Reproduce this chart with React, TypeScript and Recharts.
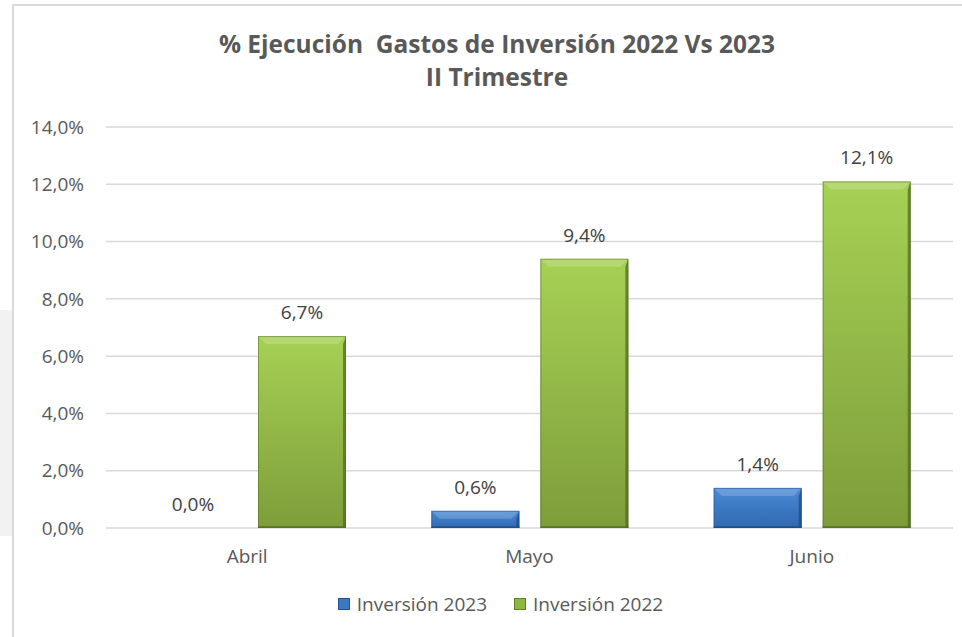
import React from "react";
import {
  BarChart,
  Bar,
  XAxis,
  YAxis,
  CartesianGrid,
  Legend,
  LabelList,
} from "recharts";

const months = ["Abril", "Mayo", "Junio"];
const inversion2023 = [0.0, 0.6, 1.4];
const inversion2022 = [6.7, 9.4, 12.1];
const yTicks = [0, 2, 4, 6, 8, 10, 12, 14];
const seriesOrder = ["Inversión 2023", "Inversión 2022"];

const data = months.map((m, i) => ({
  month: m,
  v2023: inversion2023[i],
  v2022: inversion2022[i],
}));

const FONT = "'Open Sans', 'Liberation Sans', sans-serif";
const fmt = (v: number) => v.toFixed(1).replace(".", ",") + "%";

// bar with a bit of an Excel-style bevel
function BevelBar(props: any) {
  const { x, y, width, height, light, mid, dark, id } = props;
  if (!height || height <= 0) return null;
  const b = Math.min(8, height / 2);
  return (
    <g>
      <defs>
        <linearGradient id={`g-${id}`} x1="0" y1="0" x2="0" y2="1">
          <stop offset="0%" stopColor={light} />
          <stop offset="100%" stopColor={mid} />
        </linearGradient>
      </defs>
      <rect x={x} y={y} width={width} height={height} fill={`url(#g-${id})`} />
      <polygon
        points={`${x},${y} ${x + width},${y} ${x + width - b},${y + b} ${x + b},${y + b}`}
        fill="#ffffff"
        fillOpacity={0.18}
      />
      <polygon
        points={`${x + width},${y} ${x + width},${y + height} ${x + width - 3},${y + height - 2} ${x + width - 3},${y + b}`}
        fill={dark}
        fillOpacity={0.7}
      />
      <rect x={x} y={y + height - 2} width={width} height={2} fill={dark} fillOpacity={0.6} />
      <rect
        x={x + 0.5}
        y={y + 0.5}
        width={width - 1}
        height={height - 1}
        fill="none"
        stroke={dark}
        strokeOpacity={0.5}
      />
    </g>
  );
}

function LegendContent(props: any) {
  const items = [...(props.payload || [])].sort(
    (a: any, b: any) => seriesOrder.indexOf(a.value) - seriesOrder.indexOf(b.value)
  );
  return (
    <div style={{ display: "flex", justifyContent: "center", gap: 27, paddingLeft: 22, fontFamily: FONT, fontSize: 19, color: "#595959" }}>
      {items.map((p: any) => (
        <span key={p.value} style={{ display: "inline-flex", alignItems: "center" }}>
          <span
            style={{
              width: 10,
              height: 10,
              marginRight: 7,
              background: p.color,
              border: "1px solid rgba(0,0,0,0.3)",
              display: "inline-block",
            }}
          />
          {p.value}
        </span>
      ))}
    </div>
  );
}

export default function App() {
  return (
    <div style={{ position: "absolute", left: 0, top: 0, width: 962, height: 637, background: "#fff", overflow: "hidden" }}>
      <div style={{ position: "absolute", left: 0, top: 310, width: 12, height: 226, background: "#f2f2f2" }} />
      <div
        style={{
          position: "absolute",
          left: 12,
          top: 4,
          width: 960,
          height: 660,
          borderLeft: "2px solid #d9d9d9",
          borderTop: "2px solid #d9d9d9",
        }}
      />
      <div
        style={{
          position: "absolute",
          left: 0,
          top: 27,
          width: 994,
          textAlign: "center",
          fontFamily: FONT,
          fontWeight: 700,
          fontSize: 24.5,
          lineHeight: "33px",
          color: "#595959",
        }}
      >
        % Ejecución&nbsp; Gastos de Inversión 2022 Vs 2023
        <br />
        II Trimestre
      </div>
      <BarChart
        width={962}
        height={637}
        data={data}
        margin={{ top: 127, right: 9, left: 26, bottom: 16 }}
        barGap={21}
        barSize={88}
        style={{ position: "absolute", left: 0, top: 0 }}
      >
        <CartesianGrid vertical={false} stroke="#d9d9d9" strokeWidth={1.5} />
        <XAxis
          dataKey="month"
          axisLine={false}
          tickLine={false}
          height={63}
          tickMargin={16}
          tick={{ fill: "#595959", fontSize: 19, fontFamily: FONT }}
        />
        <YAxis
          domain={[0, 14]}
          ticks={yTicks}
          tickFormatter={fmt}
          axisLine={false}
          tickLine={false}
          width={80}
          tickMargin={16}
          tick={{ fill: "#595959", fontSize: 19, fontFamily: FONT }}
        />
        <Legend verticalAlign="bottom" height={30} content={<LegendContent />} />
        <Bar
          dataKey="v2023"
          name="Inversión 2023"
          fill="#3a78c3"
          isAnimationActive={false}
          shape={(p: any) => (
            <BevelBar {...p} id={`b${p.index}`} light="#4a8ad6" mid="#2f69b0" dark="#1f4a80" />
          )}
        >
          <LabelList dataKey="v2023" position="top" offset={17} formatter={(v: any) => fmt(Number(v))} fill="#404040" fontSize={19} fontFamily={FONT} />
        </Bar>
        <Bar
          dataKey="v2022"
          name="Inversión 2022"
          fill="#8db83e"
          isAnimationActive={false}
          shape={(p: any) => (
            <BevelBar {...p} id={`g${p.index}`} light="#a6d154" mid="#7e9d3a" dark="#4f6624" />
          )}
        >
          <LabelList dataKey="v2022" position="top" offset={17} formatter={(v: any) => fmt(Number(v))} fill="#404040" fontSize={19} fontFamily={FONT} />
        </Bar>
      </BarChart>
    </div>
  );
}
